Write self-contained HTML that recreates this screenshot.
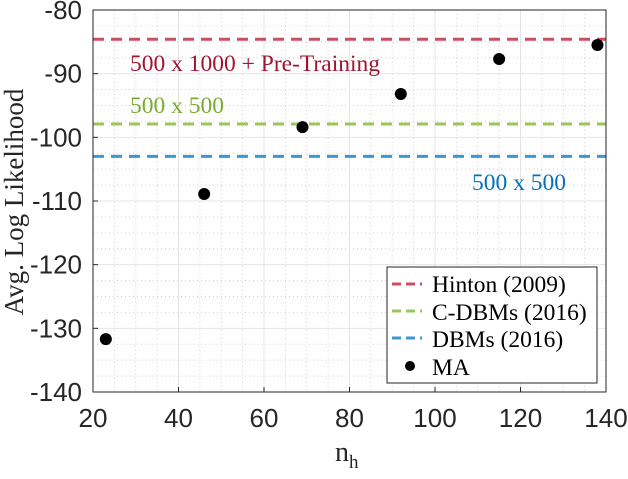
<!DOCTYPE html>
<html><head><meta charset="utf-8"><style>
body{margin:0;background:#fff}
svg text{font-family:"Liberation Sans",sans-serif}
.serif{font-family:"Liberation Serif",serif}
</style></head><body>
<svg id="chart" width="628" height="474" xmlns="http://www.w3.org/2000/svg">
<g id="grid"></g>
<g id="lines"></g>
<g id="pts"></g>
<rect x="93" y="10" width="513" height="382" fill="none" stroke="#262626" stroke-width="1"/>
<g id="ticks"></g>
<text class="serif" x="130" y="71" font-size="23.5" fill="#a2142f">500 x 1000 + Pre-Training</text>
<text class="serif" x="130" y="113" font-size="23.5" fill="#77ac30">500 x 500</text>
<text class="serif" x="472" y="190" font-size="23.5" fill="#0072bd">500 x 500</text>
<text class="serif" transform="translate(23,202) rotate(-90)" text-anchor="middle" font-size="27" fill="#262626">Avg. Log Likelihood</text>
<text class="serif" x="335" y="461" font-size="28" fill="#262626">n<tspan font-size="19" dy="7">h</tspan></text>
<g>
<rect x="387" y="267" width="210" height="116" fill="#fff" stroke="#262626" stroke-width="1"/>
<line x1="392" y1="284" x2="422" y2="284" stroke="#c94f63" stroke-width="3" stroke-dasharray="9,5"/>
<text class="serif" x="432" y="292" font-size="23.5" fill="#000">Hinton (2009)</text>
<line x1="392" y1="311" x2="422" y2="311" stroke="#9bc55b" stroke-width="3" stroke-dasharray="9,5"/>
<text class="serif" x="432" y="320" font-size="23.5" fill="#000">C-DBMs (2016)</text>
<line x1="392" y1="338" x2="422" y2="338" stroke="#3f95d0" stroke-width="3" stroke-dasharray="9,5"/>
<text class="serif" x="432" y="347" font-size="23.5" fill="#000">DBMs (2016)</text>
<circle cx="410" cy="366" r="5" fill="#000"/>
<text class="serif" x="432" y="375" font-size="23.5" fill="#000">MA</text>
</g>
</svg>
<script>
const xTicks=[20,40,60,80,100,120,140];
const yTicks=[-80,-90,-100,-110,-120,-130,-140];
const nh=[23,46,69,92,115,138];
const maLL=[-131.7,-108.9,-98.4,-93.2,-87.7,-85.5];
const refNames=["hinton","cdbm","dbm"];
const refValues=[-84.6,-97.9,-103];
const refColors=["#c94f63","#9bc55b","#3f95d0"];
const L=93,R=606,T=10,B=392;
const sx=v=>L+(v-20)/(120)*(R-L);
const sy=v=>T+(-80-v)/60*(B-T);
const NS="http://www.w3.org/2000/svg";
function mk(t,a,p){const e=document.createElementNS(NS,t);for(const k in a)e.setAttribute(k,a[k]);p.appendChild(e);return e;}
const g=document.getElementById('grid');
for(let v=20;v<=140;v+=5){if(v%20)mk('line',{x1:sx(v),x2:sx(v),y1:T,y2:B,stroke:'#d0d0d0','stroke-dasharray':'1,3'},g);}
for(let v=-140;v<=-80;v+=2.5){if(v%10)mk('line',{x1:L,x2:R,y1:sy(v),y2:sy(v),stroke:'#d0d0d0','stroke-dasharray':'1,3'},g);}
const tk=document.getElementById('ticks');
xTicks.forEach(v=>{
 const l=mk('line',{x1:sx(v),x2:sx(v),y1:T,y2:B,stroke:'#e4e4e4'},g);
 
 
 mk('line',{x1:sx(v),x2:sx(v),y1:B,y2:B-5,stroke:'#262626'},tk);
 const t=mk('text',{x:sx(v),y:B+35,'text-anchor':'middle','font-size':'26',fill:'#262626'},tk);
 
 
 t.textContent=v;
});
yTicks.forEach(v=>{
 const l=mk('line',{x1:L,x2:R,y1:sy(v),y2:sy(v),stroke:'#e4e4e4'},g);
 
 
 mk('line',{x1:L,x2:L+5,y1:sy(v),y2:sy(v),stroke:'#262626'},tk);
 const t=mk('text',{x:L-11,y:sy(v)+9,'text-anchor':'end','font-size':'26',fill:'#262626'},tk);
 
 
 t.textContent=v;
});
const ln=document.getElementById('lines');
refValues.forEach((v,i)=>{
 const l=mk('line',{x1:L,x2:R,y1:sy(v),y2:sy(v),stroke:refColors[i],'stroke-width':3,'stroke-dasharray':'11,7'},ln);
 
 
});
const pg=document.getElementById('pts');
nh.forEach((v,i)=>{
 const c=mk('circle',{cx:sx(v),cy:sy(maLL[i]),r:6,fill:'#000'},pg);
 
 
});
</script>
</body></html>
